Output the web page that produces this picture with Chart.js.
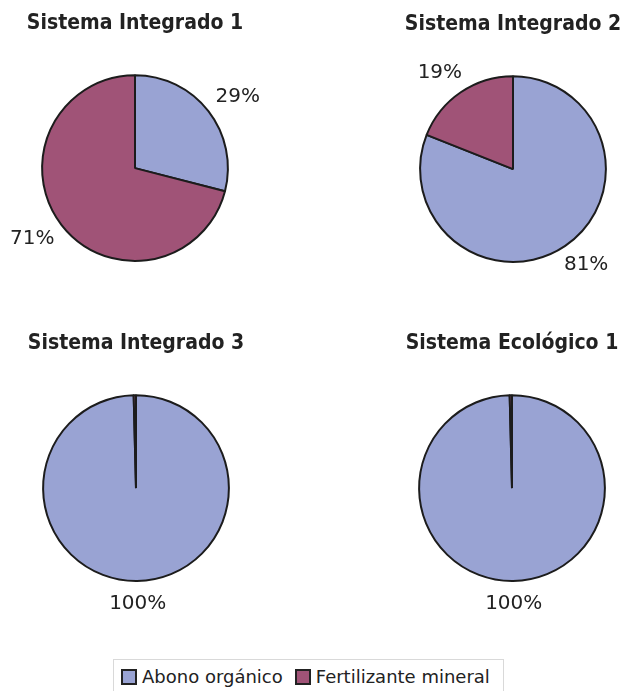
<!DOCTYPE html>
<html>
<head>
<meta charset="utf-8">
<script src="https://cdn.jsdelivr.net/npm/chart.js@4.4.0/dist/chart.umd.min.js"></script>
<style>
  html, body { margin: 0; padding: 0; background: #fff; overflow: hidden; }
  #wrap { position: relative; width: 628px; height: 691px; }
  #wrap canvas { position: absolute; }
  .legend {
    position: absolute; left: 113px; top: 659px; width: 391px; height: 40px;
    border: 1px solid #d9d9d9; box-sizing: border-box;
    font-family: 'DejaVu Sans', sans-serif; font-size: 18px; color: #222;
    display: flex; align-items: center; padding: 0 0 4px 7px; line-height: 22px;
  }
  .legend span.box {
    display: inline-block; width: 16px; height: 16px; box-sizing: border-box;
    border: 2px solid #222; margin-right: 5px;
  }
  .legend .item { display: flex; align-items: center; margin-right: 12px; }
</style>
</head>
<body>
<div id="wrap">
  <canvas id="c0" width="260" height="300" style="left:5px;top:0px"></canvas>
  <canvas id="c1" width="260" height="300" style="left:383px;top:1px"></canvas>
  <canvas id="c2" width="260" height="300" style="left:6px;top:320px"></canvas>
  <canvas id="c3" width="260" height="300" style="left:382px;top:320px"></canvas>
  <div class="legend" id="legend"></div>
</div>
<script>
// ===== Data =====
const categories = ['Abono orgánico', 'Fertilizante mineral'];
const titles = ['Sistema Integrado 1', 'Sistema Integrado 2', 'Sistema Integrado 3', 'Sistema Ecológico 1'];
const abonoOrganico = [29, 81, 99.6, 99.6];
const fertilizanteMineral = [71, 19, 0.4, 0.4];

const colors = {
  abono: '#99a3d3',
  fertilizante: '#a05377',
  border: '#1c1c1c',
  text: '#222222'
};

// Percent labels outside each slice, like the spreadsheet ones
const pctLabels = {
  id: 'pctLabels',
  afterDatasetsDraw(chart) {
    const ctx = chart.ctx;
    const ds = chart.data.datasets[0];
    const total = ds.data.reduce((a, b) => a + b, 0);
    ctx.save();
    ctx.font = '20px "DejaVu Sans", sans-serif';
    ctx.fillStyle = colors.text;
    ctx.textAlign = 'center';
    ctx.textBaseline = 'middle';
    chart.getDatasetMeta(0).data.forEach((arc, i) => {
      const share = ds.data[i] / total;
      if (share < 0.01) return; // tiny slivers get no label
      const p = arc.getProps(['x', 'y', 'startAngle', 'endAngle', 'outerRadius'], true);
      const mid = (p.startAngle + p.endAngle) / 2;
      const dx = Math.cos(mid), dy = Math.sin(mid);
      const text = Math.round(share * 100) + '%';
      const hw = ctx.measureText(text).width / 2;
      const hh = 8;
      const r = p.outerRadius + 15;
      ctx.fillText(text, p.x + dx * r + dx * hw, p.y + dy * r + dy * hh);
    });
    ctx.restore();
  }
};

function makePie(idx) {
  const canvas = document.getElementById('c' + idx);
  return new Chart(canvas, {
    type: 'pie',
    data: {
      labels: categories,
      datasets: [{
        data: [abonoOrganico[idx], fertilizanteMineral[idx]],
        backgroundColor: [colors.abono, colors.fertilizante],
        borderColor: colors.border,
        borderWidth: 2,
        hoverOffset: 0,
        offset: 0
      }]
    },
    options: {
      responsive: false,
      animation: false,
      events: [],
      layout: { padding: { top: 0, bottom: 38, left: 0, right: 0 } },
      plugins: {
        legend: { display: false },
        tooltip: { enabled: false },
        title: {
          display: true,
          text: titles[idx],
          color: colors.text,
          font: { family: "'DejaVu Sans Condensed', 'DejaVu Sans', sans-serif", size: 21, weight: 'bold' },
          padding: { top: 11, bottom: 38 }
        }
      }
    },
    plugins: [pctLabels]
  });
}

titles.forEach((t, i) => makePie(i));

// Shared legend under the four pies
const legend = document.getElementById('legend');
const legendColors = [colors.abono, colors.fertilizante];
categories.forEach((name, i) => {
  const item = document.createElement('div');
  item.className = 'item';
  const box = document.createElement('span');
  box.className = 'box';
  box.style.background = legendColors[i];
  item.appendChild(box);
  item.appendChild(document.createTextNode(name));
  legend.appendChild(item);
});
</script>
</body>
</html>
